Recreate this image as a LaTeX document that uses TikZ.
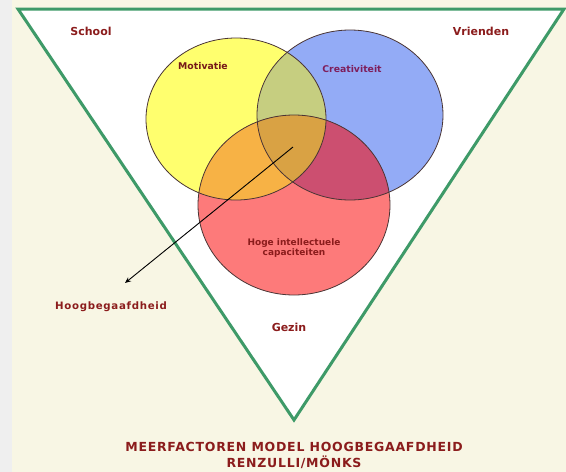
\documentclass[tikz,border=0pt]{standalone}
\usepackage{fontspec}
\setmainfont{DejaVu Sans}
\newfontfamily\spacedfont[LetterSpace=7]{DejaVu Sans Bold}
\newfontfamily\titlefont[LetterSpace=6]{DejaVu Sans Bold}
\usetikzlibrary{arrows.meta}
\definecolor{bgcream}{HTML}{F8F6E4}
\definecolor{bggray}{HTML}{EFEFEF}
\definecolor{trigreen}{HTML}{3E9A68}
\definecolor{txtred}{HTML}{8B1C1C}
\definecolor{txtmag}{HTML}{7E1E5C}
\definecolor{cY}{HTML}{FFFF6E}
\definecolor{cB}{HTML}{93ABF6}
\definecolor{cR}{HTML}{FD7A7A}
\definecolor{cYB}{HTML}{C6CE80}
\definecolor{cYR}{HTML}{F7B245}
\definecolor{cBR}{HTML}{CC4F70}
\definecolor{cYBR}{HTML}{D9A244}
\definecolor{outl}{HTML}{4A3535}
\tikzset{
  lbl/.style={font=\bfseries\fontsize{11}{13}\selectfont, text=txtred, inner sep=0pt},
  smalllbl/.style={font=\bfseries\fontsize{9}{10.5}\selectfont, text=txtred, inner sep=0pt, align=center},
  ring/.style={draw=outl, line width=0.8pt},
}
\def\ellY{(236,119) ellipse [x radius=90, y radius=81]}
\def\ellB{(350,115) ellipse [x radius=93, y radius=85]}
\def\ellR{(294,205) ellipse [x radius=96, y radius=90]}
\begin{document}
\begin{tikzpicture}[x=1pt,y=-1pt]
\useasboundingbox (0,0) rectangle (566,472);
\fill[bgcream] (0,0) rectangle (566,472);
\fill[bggray] (0,0) rectangle (12,472);
% triangle
\coordinate (tl) at (18,9);
\coordinate (tr) at (564,9);
\coordinate (tb) at (294,420);
\filldraw[fill=white, draw=trigreen, line width=3pt, line join=miter] (tl) -- (tr) -- (tb) -- cycle;
% ellipses base fills
\fill[cY] \ellY;
\fill[cB] \ellB;
\fill[cR] \ellR;
\begin{scope}\clip \ellY; \fill[cYB] \ellB; \end{scope}
\begin{scope}\clip \ellY; \fill[cYR] \ellR; \end{scope}
\begin{scope}\clip \ellB; \fill[cBR] \ellR; \end{scope}
\begin{scope}\clip \ellY; \clip \ellB; \fill[cYBR] \ellR; \end{scope}
\draw[ring] \ellY;
\draw[ring] \ellB;
\draw[ring] \ellR;
% labels
\node[lbl] (school) at (91,31) {School};
\node[lbl] (vrienden) at (481,31) {Vrienden};
\node[lbl] (gezin) at (289,327) {Gezin};
\node[smalllbl, font=\bfseries\fontsize{9.3}{11}\selectfont, text=txtred!85!black] (mot) at (203,66) {Motivatie};
\node[smalllbl, font=\bfseries\fontsize{9.3}{11}\selectfont, text=txtmag] (crea) at (352,69) {Creativiteit};
\node[smalllbl] (hoge) at (294,248) {Hoge intellectuele\\capaciteiten};
\node[font=\spacedfont\fontsize{10.2}{12}\selectfont, text=txtred, inner sep=0pt] (hb) at (111,307) {Hoogbegaafdheid};
\node[font=\titlefont\fontsize{12.5}{16}\selectfont, text=txtred, inner sep=0pt, align=center] (title) at (294,455) {MEERFACTOREN MODEL HOOGBEGAAFDHEID\\RENZULLI/MÖNKS};
% arrow
\coordinate (astart) at (293,147);
\coordinate (aend) at (125,283);
\draw[black, line width=0.9pt, -{Stealth[length=6pt,width=5pt]}] (astart) -- (aend);
\end{tikzpicture}
\end{document}
